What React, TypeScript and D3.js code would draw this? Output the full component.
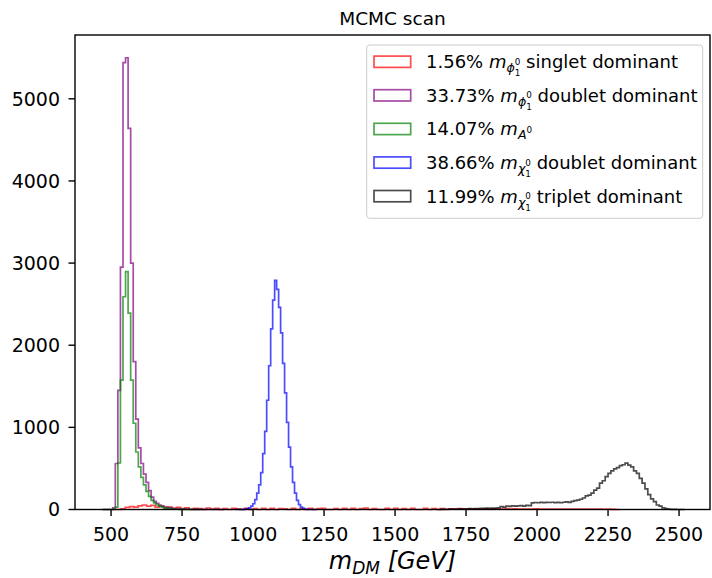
import * as d3 from 'd3';

// tick values
const xTicks = [500, 750, 1000, 1250, 1500, 1750, 2000, 2250, 2500];
const yTicks = [0, 1000, 2000, 3000, 4000, 5000];

// phi singlet dominant, bins of 15 GeV from 520
const singletStart = 520;
const singletWidth = 15;
const singletCounts = [
  0, 8, 25, 35, 30, 45, 55, 40,
  50, 30, 40, 20, 30, 15, 25, 10,
  20, 0, 15, 10, 0, 18, 5, 15,
  0, 12, 0, 15, 8, 0, 14, 0,
  12, 0, 15, 0, 14, 0, 12, 8,
  0, 15, 0, 12, 0, 14, 0, 10,
  14, 0, 0, 12, 0, 15, 0, 13,
  0, 10, 16, 0, 12, 0, 0, 14,
  0, 15, 0, 12, 0, 14, 0, 0,
  13, 0, 10, 0, 12, 0, 8, 5,
  10, 6, 8, 5, 7, 6, 8, 6,
  7, 5, 6, 8, 6, 7, 5, 6,
  6, 5, 7, 6, 5, 6, 5, 6,
  5, 6, 5, 4, 6, 5, 4, 5,
  4, 5, 3, 4, 2, 0,
];

// phi doublet dominant, bins of 9 GeV from 470
const doubletPhiStart = 470;
const doubletPhiWidth = 9;
const doubletPhiCounts = [
  0, 0, 0, 0, 20, 560, 1450, 2950, 5440, 5500,
  4640, 3000, 1800, 1100, 750, 560, 430, 330, 230, 150,
  100, 75, 55, 42, 32, 25, 20, 15, 12, 10,
  8, 6, 5, 4, 3, 3, 2, 2, 1, 1,
  1, 0, 0, 0, 0, 0, 0, 0,
];

// A0, bins of 9 GeV from 470
const aStart = 470;
const aWidth = 9;
const aCounts = [
  0, 0, 0, 0, 0, 30, 566, 1576, 2590, 2895,
  2390, 1576, 1050, 700, 520, 390, 300, 220, 160, 110,
  80, 55, 40, 28, 20, 14, 10, 7, 5, 3,
  2, 1, 1, 0, 0, 0, 0, 0,
];

// chi doublet dominant, bins of 7 GeV from 936
const doubletChiStart = 936;
const doubletChiWidth = 7;
const doubletChiCounts = [
  0, 0, 0, 0, 2, 5, 10, 20, 40, 70,
  120, 200, 300, 450, 680, 950, 1330, 1750, 2200, 2550,
  2790, 2680, 2460, 2150, 1780, 1420, 1060, 760, 520, 330,
  200, 110, 60, 30, 14, 6, 2, 0, 0, 0, 0,
];

// chi triplet dominant, bins of 10 GeV from 1650
const tripletStart = 1650;
const tripletWidth = 10;
const tripletCounts = [
  0, 2, 3, 3, 5, 4, 6, 5, 8, 7,
  9, 10, 8, 12, 11, 14, 13, 16, 15, 18,
  17, 20, 35, 30, 42, 38, 45, 40, 44, 48,
  42, 50, 46, 80, 85, 82, 86, 84, 87, 85,
  88, 84, 86, 82, 88, 92, 86, 100, 108, 115,
  125, 140, 165, 175, 200, 235, 260, 320, 350, 400,
  440, 470, 495, 510, 535, 545, 565, 540, 520, 470,
  440, 380, 320, 250, 180, 130, 95, 55, 40, 20,
  12, 6, 2, 1, 0, 0, 0,
];

const percents = ['1.56%', '33.73%', '14.07%', '38.66%', '11.99%'];
const symbols = ['ϕ', 'ϕ', 'A', 'χ', 'χ'];
const descriptions = ['singlet dominant', 'doublet dominant', '', 'doublet dominant', 'triplet dominant'];

const series = [
  { start: singletStart, width: singletWidth, counts: singletCounts, color: '#ff0000' },
  { start: doubletPhiStart, width: doubletPhiWidth, counts: doubletPhiCounts, color: '#800080' },
  { start: aStart, width: aWidth, counts: aCounts, color: '#008000' },
  { start: doubletChiStart, width: doubletChiWidth, counts: doubletChiCounts, color: '#0000ff' },
  { start: tripletStart, width: tripletWidth, counts: tripletCounts, color: '#000000' },
];

const W = 712;
const H = 578;
const left = 75, right = 710, top = 35, bottom = 509.5;
const font = 'DejaVu Sans, sans-serif';

function LegendLabel({ x, y, pct, sym, desc }) {
  const twoIdx = sym !== 'A';
  return (
    <text x={x} y={y} fontSize={18} fontFamily={font} fill="#000">
      <tspan>{pct + ' '}</tspan>
      <tspan fontStyle="italic">m</tspan>
      <tspan fontStyle="italic" fontSize={12.6} dy={4}>{sym}</tspan>
      {twoIdx ? (
        <>
          <tspan fontSize={8.8} dy={-7.5}>0</tspan>
          <tspan fontSize={8.8} dx={-5.6} dy={11.5}>1</tspan>
          <tspan fontSize={18} dy={-8}>{' ' + desc}</tspan>
        </>
      ) : (
        <tspan fontSize={8.8} dy={-6}>0</tspan>
      )}
    </text>
  );
}

export default function App() {
  const x = d3.scaleLinear().domain([373, 2609]).range([left, right]);
  const y = d3.scaleLinear().domain([0, 5777]).range([bottom, top]);
  const line = d3.line<[number, number]>().x(d => x(d[0])).y(d => y(d[1]));

  const stepPath = (start: number, width: number, counts: number[]) => {
    const pts: [number, number][] = [[start, 0]];
    counts.forEach((c, i) => {
      pts.push([start + i * width, c]);
      pts.push([start + (i + 1) * width, c]);
    });
    pts.push([start + counts.length * width, 0]);
    return line(pts) || '';
  };

  const legendTop = 61.7;
  const legendStep = 33.6;

  return (
    <svg width={W} height={H} style={{ position: 'absolute', left: 0, top: 0 }} fontFamily={font}>
      <rect width={W} height={H} fill="#fff" />

      {series.map((s, i) => (
        <path key={i} d={stepPath(s.start, s.width, s.counts)} fill="none"
          stroke={s.color} strokeOpacity={0.7} strokeWidth={1.7} strokeLinejoin="miter" />
      ))}

      {/* frame */}
      <rect x={left} y={top} width={right - left} height={bottom - top} fill="none" stroke="#000" strokeWidth={1.4} />

      {/* x axis */}
      {xTicks.map(t => (
        <g key={t}>
          <line x1={x(t)} x2={x(t)} y1={bottom} y2={bottom + 6.5} stroke="#000" strokeWidth={1.4} />
          <text x={x(t)} y={541} textAnchor="middle" fontSize={19}>{t}</text>
        </g>
      ))}

      {/* y axis */}
      {yTicks.map(t => (
        <g key={t}>
          <line x1={left - 6.5} x2={left} y1={y(t)} y2={y(t)} stroke="#000" strokeWidth={1.4} />
          <text x={60} y={y(t)} dy="0.36em" textAnchor="end" fontSize={19}>{t}</text>
        </g>
      ))}

      <text x={(left + right) / 2} y={25} textAnchor="middle" fontSize={18.5}>MCMC scan</text>

      <text x={(left + right) / 2} y={569} textAnchor="middle" fontSize={24} fontStyle="italic">
        <tspan>m</tspan>
        <tspan fontSize={17} dy={5}>DM</tspan>
        <tspan fontSize={24} dy={-5}>{' [GeV]'}</tspan>
      </text>

      {/* legend */}
      <rect x={366.7} y={45} width={336} height={173.3} rx={3} fill="#fff" fillOpacity={0.8} stroke="#cccccc" strokeWidth={1} />
      {series.map((s, i) => {
        const cy = legendTop + i * legendStep;
        return (
          <g key={i}>
            <rect x={374} y={cy - 5.6} width={36.7} height={11.3} fill="none" stroke={s.color}
              strokeOpacity={0.7} strokeWidth={1.7} />
            <LegendLabel x={426} y={cy + 6.5} pct={percents[i]} sym={symbols[i]} desc={descriptions[i]} />
          </g>
        );
      })}
    </svg>
  );
}
